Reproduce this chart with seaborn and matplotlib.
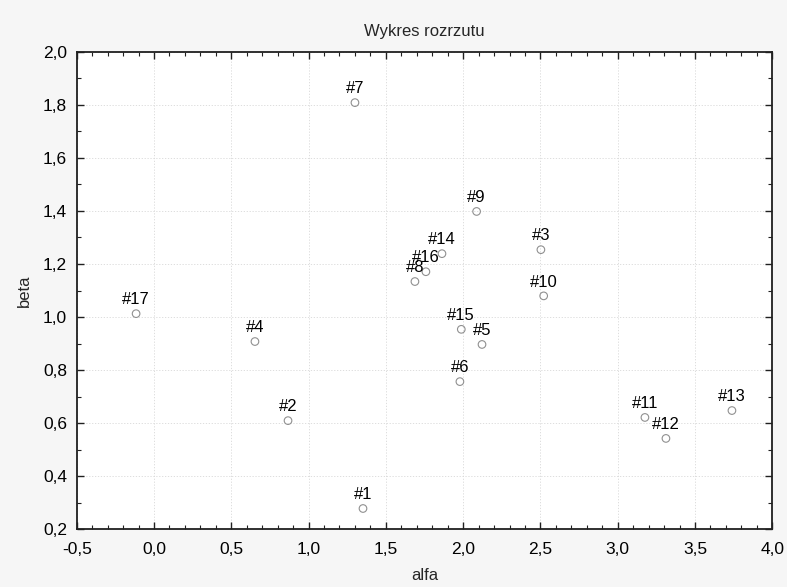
import numpy as np
import pandas as pd
import matplotlib
matplotlib.use("Agg")
import matplotlib.pyplot as plt
from matplotlib.ticker import MultipleLocator, FuncFormatter
import seaborn as sns

labels = ["#1", "#2", "#3", "#4", "#5", "#6", "#7", "#8", "#9", "#10",
          "#11", "#12", "#13", "#14", "#15", "#16", "#17"]
alfa = [1.352, 0.867, 2.503, 0.653, 2.122, 1.979, 1.300, 1.688, 2.087, 2.521,
        3.176, 3.312, 3.739, 1.863, 1.988, 1.759, -0.116]
beta = [0.279, 0.610, 1.254, 0.908, 0.897, 0.757, 1.808, 1.134, 1.398, 1.080,
        0.622, 0.543, 0.648, 1.239, 0.954, 1.171, 1.013]

df = pd.DataFrame({"alfa": alfa, "beta": beta, "label": labels})

sns.set_style("white")
plt.rcParams["font.family"] = ["Liberation Sans", "DejaVu Sans"]

fig = plt.figure(figsize=(7.87, 5.87), dpi=100)
fig.patch.set_facecolor("#f6f6f6")
ax = fig.add_axes([0.0975, 0.098, 0.8838, 0.814])
ax.set_facecolor("white")

sns.scatterplot(data=df, x="alfa", y="beta", ax=ax, s=30, marker="o",
                facecolor="none", edgecolor="#909090", linewidth=0.8, zorder=3)

for _, r in df.iterrows():
    ax.annotate(r["label"], (r["alfa"], r["beta"]), xytext=(0, 4.5),
                textcoords="offset points", ha="center", va="bottom",
                fontsize=12, color="black", zorder=4)

ax.set_xlim(-0.5, 4.0)
ax.set_ylim(0.2, 2.0)
ax.xaxis.set_major_locator(MultipleLocator(0.5))
ax.xaxis.set_minor_locator(MultipleLocator(0.1))
ax.yaxis.set_major_locator(MultipleLocator(0.2))
ax.yaxis.set_minor_locator(MultipleLocator(0.1))
fmt = FuncFormatter(lambda v, p: f"{v:.1f}".replace(".", ","))
ax.xaxis.set_major_formatter(fmt)
ax.yaxis.set_major_formatter(fmt)

ax.grid(True, which="major", linestyle=(0, (1.5, 2)), color="#d8d8d8", linewidth=0.6)
ax.set_axisbelow(True)
for s in ax.spines.values():
    s.set_visible(True)
    s.set_color("#202020")
    s.set_linewidth(1.3)

ax.tick_params(which="both", direction="in", top=True, right=True,
               bottom=True, left=True, colors="#202020", labelcolor="black",
               labelsize=12.5)
ax.tick_params(which="major", length=5, width=1.0)
ax.tick_params(axis="x", which="major", pad=9)
ax.tick_params(axis="y", which="major", pad=7)
ax.tick_params(which="minor", length=3, width=0.8)

ax.set_title("Wykres rozrzutu", fontsize=12, pad=11)
ax.set_xlabel("alfa", fontsize=12, labelpad=8)
ax.set_ylabel("beta", fontsize=12, labelpad=8)

fig.savefig("out.png", dpi=100, facecolor=fig.get_facecolor())
